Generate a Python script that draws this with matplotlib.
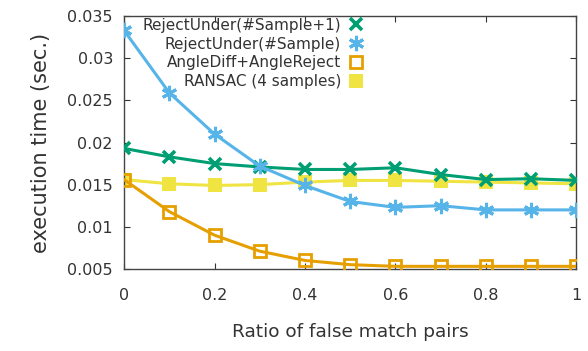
import matplotlib.pyplot as plt

# ratio of false match pairs
ratio = [0, 0.1, 0.2, 0.3, 0.4, 0.5, 0.6, 0.7, 0.8, 0.9, 1.0]

# execution time (sec.)
reject_under_plus1 = [0.0193, 0.0183, 0.0175, 0.0171, 0.0168, 0.0168, 0.0170, 0.0162, 0.0156, 0.0157, 0.0155]
reject_under = [0.0333, 0.0259, 0.0210, 0.0172, 0.0149, 0.0130, 0.0123, 0.0125, 0.0120, 0.0120, 0.0120]
angle_diff = [0.0156, 0.0118, 0.0090, 0.0071, 0.0060, 0.0055, 0.0053, 0.0053, 0.0053, 0.0053, 0.0053]
ransac = [0.0156, 0.0151, 0.0149, 0.0150, 0.0153, 0.0155, 0.0155, 0.0154, 0.0153, 0.0152, 0.0151]

labels = ['RejectUnder(#Sample+1)', 'RejectUnder(#Sample)',
          'AngleDiff+AngleReject', 'RANSAC (4 samples)']

plt.rcParams['font.family'] = ['DejaVu Sans']
text_col = '#333333'

fig = plt.figure(figsize=(5.88, 3.51), dpi=100)
ax = fig.add_axes([0.211, 0.234, 0.769, 0.72])

lw = 2.2
ax.plot(ratio, reject_under_plus1, color='#009e73', lw=lw, marker='x',
        ms=8, mew=2.6, label=labels[0], zorder=3)
ax.plot(ratio, reject_under, color='#56b4e9', lw=lw, marker=(6, 2, 0),
        ms=11, mew=2.2, label=labels[1], zorder=4)
ax.plot(ratio, angle_diff, color='#e69f00', lw=lw, marker='s', ms=9,
        mfc='none', mew=2.0, label=labels[2], zorder=3)
ax.plot(ratio, ransac, color='#f0e442', lw=lw, marker='s', ms=10,
        mew=0, label=labels[3], zorder=2)

ax.set_xlim(0, 1)
ax.set_ylim(0.005, 0.035)
ax.set_xticks([0, 0.2, 0.4, 0.6, 0.8, 1])
ax.set_xticklabels(['0', '0.2', '0.4', '0.6', '0.8', '1'])
ax.set_yticks([0.005, 0.01, 0.015, 0.02, 0.025, 0.03, 0.035])
ax.set_yticklabels(['0.005', '0.01', '0.015', '0.02', '0.025', '0.03', '0.035'])

ax.tick_params(direction='in', length=4, width=0.8, colors='#333333',
               labelsize=11.5, top=True, right=True)
ax.tick_params(axis='x', pad=14)
ax.tick_params(axis='y', pad=8)
for s in ax.spines.values():
    s.set_color('#444444')
    s.set_linewidth(1.0)

ax.set_xlabel('Ratio of false match pairs', fontsize=13.3, color=text_col, labelpad=14)
ax.set_ylabel('execution time (sec.)', fontsize=15, color=text_col, labelpad=12)

leg = ax.legend(loc='upper left', bbox_to_anchor=(0.02, 1.03), frameon=False,
                markerfirst=False, fontsize=11, handlelength=1.0,
                handletextpad=0.5, labelspacing=0.25, borderaxespad=0.2)
for t in leg.get_texts():
    t.set_ha('right')
    t.set_color(text_col)
for h in leg.legend_handles:
    h.set_linestyle('none')

fig.savefig('out.png', dpi=100)
